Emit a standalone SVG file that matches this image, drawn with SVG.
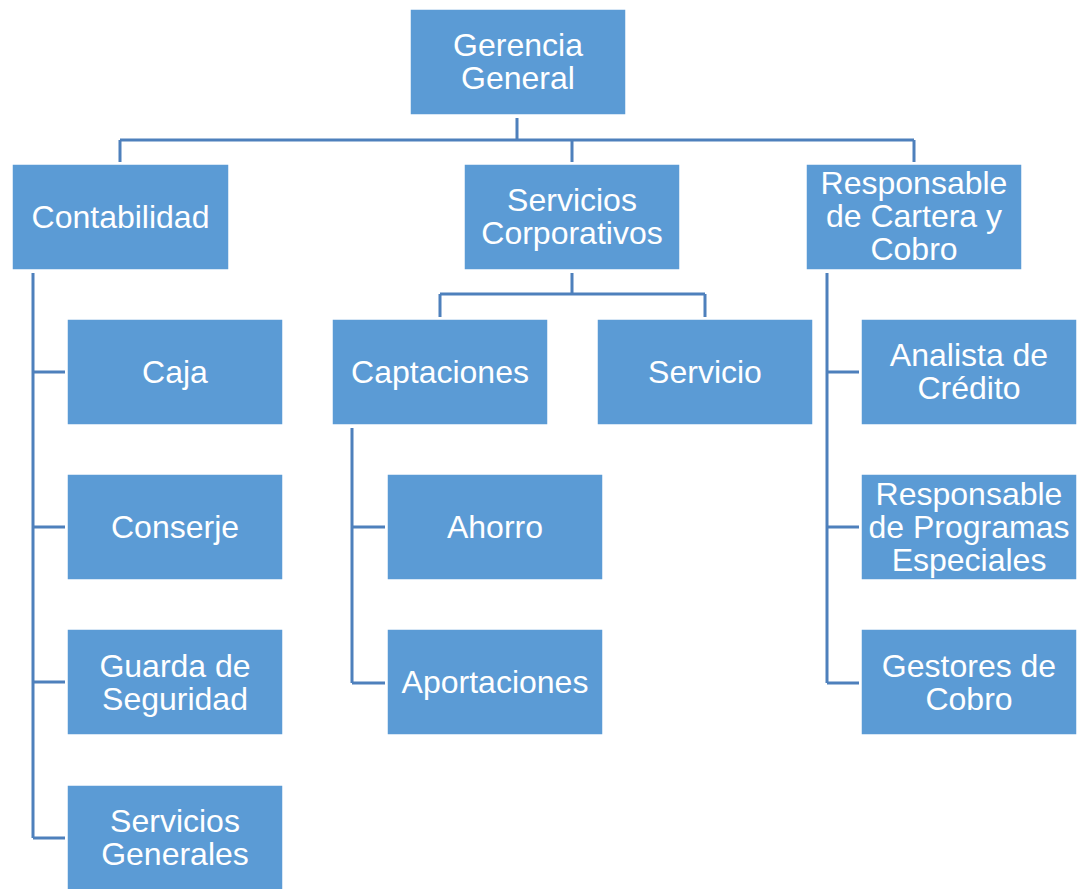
<svg xmlns="http://www.w3.org/2000/svg" width="1078" height="889" viewBox="0 0 1078 889">
<style>
.box{fill:#5B9BD5;stroke:#FFFFFF;stroke-width:1.5}
.t{font-family:"Liberation Sans",Arial,sans-serif;font-size:32px;fill:#FFFFFF;text-anchor:middle}
.c{fill:none;stroke:#4E80BC;stroke-width:3}
</style>
<rect width="1078" height="889" fill="#FFFFFF"/>
<g id="connectors">
<path class="c" d="M517 118V140M120 140H914M120 140V162M572 140V162M914 140V162"/>
<path class="c" d="M33 273V838M33 372H65M33 527H65M33 682H65M33 838H65"/>
<path class="c" d="M572 273V294M440 294H705M440 294V317M705 294V317"/>
<path class="c" d="M352 428V683M352 527H385M352 683H385"/>
<path class="c" d="M827 273V683M827 372H859M827 527H859M827 683H859"/>
</g>
<g id="gerencia"><rect class="box" x="410" y="9" width="216" height="106"/><text class="t" x="518" y="56">Gerencia</text><text class="t" x="518" y="89">General</text></g>
<g id="contabilidad"><rect class="box" x="12" y="164" width="217" height="106"/><text class="t" x="120.5" y="228">Contabilidad</text></g>
<g id="servicios-corporativos"><rect class="box" x="464" y="164" width="216" height="106"/><text class="t" x="572" y="211">Servicios</text><text class="t" x="572" y="244">Corporativos</text></g>
<g id="responsable-cartera"><rect class="box" x="806" y="164" width="216" height="106"/><text class="t" x="914" y="194">Responsable</text><text class="t" x="914" y="227">de Cartera y</text><text class="t" x="914" y="260">Cobro</text></g>
<g id="caja"><rect class="box" x="67" y="319" width="216" height="106"/><text class="t" x="175" y="383">Caja</text></g>
<g id="conserje"><rect class="box" x="67" y="474" width="216" height="106"/><text class="t" x="175" y="538">Conserje</text></g>
<g id="guarda"><rect class="box" x="67" y="629" width="216" height="106"/><text class="t" x="175" y="677">Guarda de</text><text class="t" x="175" y="710">Seguridad</text></g>
<g id="servicios-generales"><rect class="box" x="67" y="785" width="216" height="106"/><text class="t" x="175" y="832">Servicios</text><text class="t" x="175" y="865">Generales</text></g>
<g id="captaciones"><rect class="box" x="332" y="319" width="216" height="106"/><text class="t" x="440" y="383">Captaciones</text></g>
<g id="servicio"><rect class="box" x="597" y="319" width="216" height="106"/><text class="t" x="705" y="383">Servicio</text></g>
<g id="ahorro"><rect class="box" x="387" y="474" width="216" height="106"/><text class="t" x="495" y="538">Ahorro</text></g>
<g id="aportaciones"><rect class="box" x="387" y="629" width="216" height="106"/><text class="t" x="495" y="693">Aportaciones</text></g>
<g id="analista"><rect class="box" x="861" y="319" width="216" height="106"/><text class="t" x="969" y="366">Analista de</text><text class="t" x="969" y="399">Crédito</text></g>
<g id="programas-especiales"><rect class="box" x="861" y="474" width="216" height="106"/><text class="t" x="969" y="505">Responsable</text><text class="t" x="969" y="538">de Programas</text><text class="t" x="969" y="571">Especiales</text></g>
<g id="gestores"><rect class="box" x="861" y="629" width="216" height="106"/><text class="t" x="969" y="677">Gestores de</text><text class="t" x="969" y="710">Cobro</text></g>
</svg>
